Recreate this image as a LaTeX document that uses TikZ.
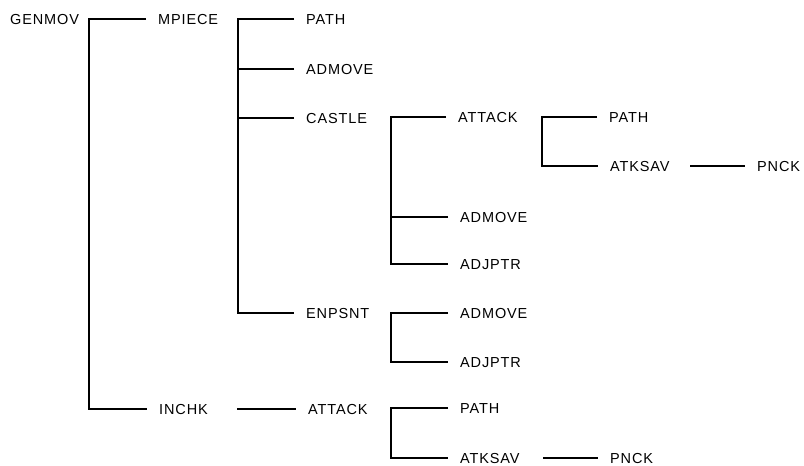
\documentclass[tikz,border=0pt]{standalone}
\usepackage{fontspec}
\setmainfont{Liberation Sans}[LetterSpace=6]
\begin{document}
\begin{tikzpicture}[x=1pt,y=-1pt,
  lbl/.style={anchor=west,inner xsep=12pt,inner ysep=0pt,font=\fontsize{14.5}{14.5}\selectfont,text height=10.5pt,text depth=0pt},
  conn/.style={line width=1.5pt}]
\useasboundingbox (0,0) rectangle (804,466);
% labels
\node[lbl] (genmov)  at (-2,19)  {GENMOV};
\node[lbl] (mpiece)  at (146,19) {MPIECE};
\node[lbl] (path1)   at (294,19) {PATH};
\node[lbl] (admove1) at (294,69) {ADMOVE};
\node[lbl] (castle)  at (294,118) {CASTLE};
\node[lbl] (attack1) at (446,117) {ATTACK};
\node[lbl] (path2)   at (597,117) {PATH};
\node[lbl] (atksav1) at (598,166) {ATKSAV};
\node[lbl] (pnck1)   at (745,166) {PNCK};
\node[lbl] (admove2) at (448,217) {ADMOVE};
\node[lbl] (adjptr1) at (448,264) {ADJPTR};
\node[lbl] (enpsnt)  at (294,313) {ENPSNT};
\node[lbl] (admove3) at (448,313) {ADMOVE};
\node[lbl] (adjptr2) at (448,362) {ADJPTR};
\node[lbl] (inchk)   at (147,409) {INCHK};
\node[lbl] (attack2) at (296,409) {ATTACK};
\node[lbl] (path3)   at (448,408) {PATH};
\node[lbl] (atksav2) at (448,458) {ATKSAV};
\node[lbl] (pnck2)   at (598,458) {PNCK};
% junctions
\coordinate (j1) at (89,19);
\coordinate (j2) at (238,19);
\coordinate (j3) at (391,117);
\coordinate (j4) at (542,117);
\coordinate (j5) at (391,313);
\coordinate (j6) at (391,408);
\coordinate (c1) at (237,409);
\coordinate (c2) at (690,166);
\coordinate (c3) at (543,458);
% connectors
\draw[conn] (mpiece.west) -- (j1) |- (inchk.west);
\draw[conn] (path1.west) -- (j2) |- (enpsnt.west);
\draw[conn] (admove1.west) -- (j2 |- admove1.west);
\draw[conn] (castle.west) -- (j2 |- castle.west);
\draw[conn] (attack1.west) -- (j3) |- (adjptr1.west);
\draw[conn] (admove2.west) -- (j3 |- admove2.west);
\draw[conn] (path2.west) -- (j4) |- (atksav1.west);
\draw[conn] (c2) -- (pnck1.west);
\draw[conn] (admove3.west) -- (j5) |- (adjptr2.west);
\draw[conn] (c1) -- (attack2.west);
\draw[conn] (path3.west) -- (j6) |- (atksav2.west);
\draw[conn] (c3) -- (pnck2.west);
\end{tikzpicture}
\end{document}
